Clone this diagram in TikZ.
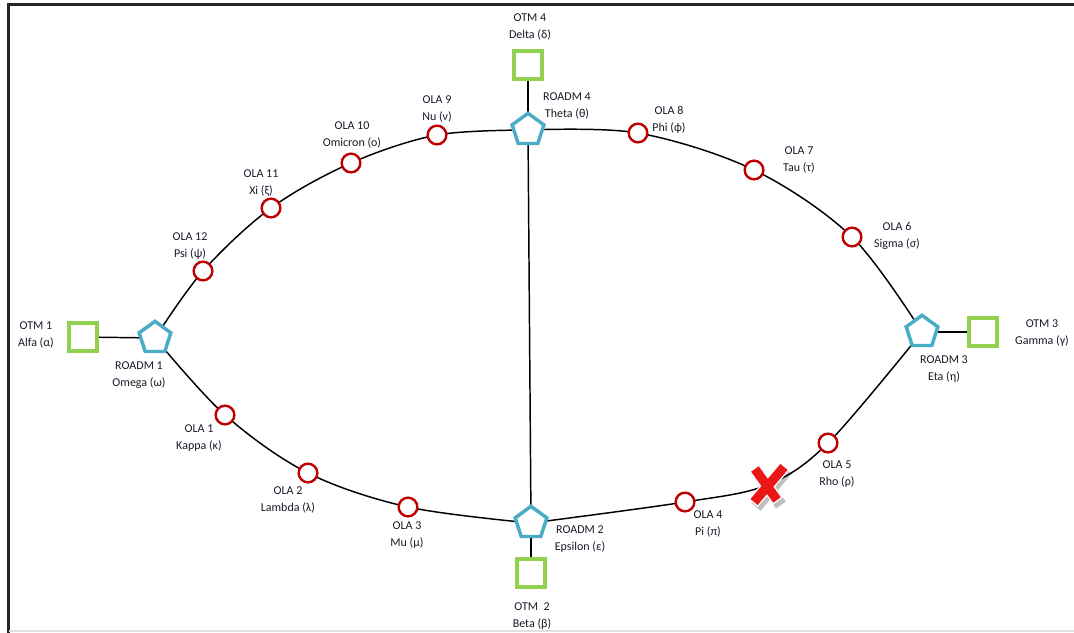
\documentclass[tikz,border=0pt]{standalone}
\usepackage{fontspec}
\setmainfont{Carlito}
\usetikzlibrary{shapes.geometric,backgrounds}
\definecolor{roadm}{RGB}{75,172,198}
\definecolor{otm}{RGB}{146,208,80}
\definecolor{ola}{RGB}{192,0,0}
\definecolor{txt}{RGB}{25,25,40}
\definecolor{xred}{RGB}{235,22,22}
\begin{document}
\begin{tikzpicture}[x=0.75pt,y=-0.75pt,
  roadmnode/.style={regular polygon, regular polygon sides=5, draw=roadm, line width=2.6pt, fill=white, minimum size=25pt, inner sep=0pt},
  otmnode/.style={rectangle, draw=otm, line width=3pt, fill=white, minimum size=21pt, inner sep=0pt},
  olanode/.style={circle, draw=ola, line width=1.8pt, fill=white, minimum size=14pt, inner sep=0pt},
  lbl/.style={font=\fontsize{9}{12.4}\selectfont, text=txt, align=center, inner sep=0pt},
  link/.style={draw=black, line width=1.1pt},
  xarm/.style={line width=7pt},
]
\useasboundingbox (0,0) rectangle (1074,632);

% ROADMs
\node[roadmnode] (r1) at (155,338) {};
\node[roadmnode] (r2) at (531,523) {};
\node[roadmnode] (r3) at (922,332) {};
\node[roadmnode] (r4) at (528,130) {};
% OTMs
\node[otmnode] (t1) at (83,337) {};
\node[otmnode] (t2) at (531,573) {};
\node[otmnode] (t3) at (983,332) {};
\node[otmnode] (t4) at (528,65) {};
% OLAs
\node[olanode] (o1) at (225,415) {};
\node[olanode] (o2) at (308,473) {};
\node[olanode] (o3) at (408,507) {};
\node[olanode] (o4) at (685,502) {};
\node[olanode] (o5) at (828,443) {};
\node[olanode] (o6) at (852,237) {};
\node[olanode] (o7) at (754,170) {};
\node[olanode] (o8) at (638,133) {};
\node[olanode] (o9) at (437,135) {};
\node[olanode] (o10) at (351,163) {};
\node[olanode] (o11) at (271,208) {};
\node[olanode] (o12) at (203,271) {};
\coordinate (cut) at (767,485);

% links and frame
\begin{scope}[on background layer]
\clip (0,0) rectangle (1074,632);
\draw[line width=1.6pt, black!85] (1090,4.5) -- (8.5,4.5) -- (8.5,650);
\draw[line width=1pt, black!12] (9,631) -- (1090,631);
\draw[link] plot[smooth, tension=0.55] coordinates {(r1.center) (o12.center) (o11.center) (o10.center) (o9.center) (r4.center)};
\draw[link] plot[smooth, tension=0.55] coordinates {(r4.center) (o8.center) (o7.center) (o6.center) (r3.center)};
\draw[link] plot[smooth, tension=0.55] coordinates {(r3.center) (o5.center) (cut) (o4.center) (r2.center)};
\draw[link] plot[smooth, tension=0.55] coordinates {(r2.center) (o3.center) (o2.center) (o1.center) (r1.center)};
\draw[link] (r4.center) -- (r2.center);
\draw[link] (t1.center) -- (r1.center);
\draw[link] (t2.center) -- (r2.center);
\draw[link] (t3.center) -- (r3.center);
\draw[link] (t4.center) -- (r4.center);
\end{scope}

% red cross (fibre cut)
\begin{scope}[shift={(cut)}]
\draw[xarm, black, opacity=0.25, line width=9pt] (-10,-13) -- (14,20) (20,-15) -- (-11,22);
\draw[xarm, white, line width=9pt] (-13,-17) -- (11,16) (18,-19) -- (-14,18);
\draw[xarm, xred] (-12,-16) -- (10,15) (17,-18) -- (-13,17);
\end{scope}

% labels
\node[lbl] (lt4) at (530,27) {OTM 4\\Delta (δ)};
\node[lbl] (lr4) at (567,106) {ROADM 4\\Theta (θ)};
\node[lbl] (l9) at (437,109) {OLA 9\\Nu (ν)};
\node[lbl] (l10) at (352,135) {OLA 10\\Omicron (ο)};
\node[lbl] (l11) at (261,183) {OLA 11\\Xi (ξ)};
\node[lbl] (l12) at (190,246) {OLA 12\\Psi (ψ)};
\node[lbl] (lt1) at (36,335) {OTM 1\\Alfa (α)};
\node[lbl] (lr1) at (139,375) {ROADM 1\\Omega (ω)};
\node[lbl] (l1) at (199,438) {OLA 1\\Kappa (κ)};
\node[lbl] (l2) at (288,500) {OLA 2\\Lambda (λ)};
\node[lbl] (l3) at (407,535) {OLA 3\\Mu (μ)};
\node[lbl] (lr2) at (580,539) {ROADM 2\\Epsilon (ε)};
\node[lbl] (lt2) at (532,616) {OTM\ \ 2\\Beta (β)};
\node[lbl] (l4) at (708,524) {OLA 4\\Pi (π)};
\node[lbl] (l5) at (837,474) {OLA 5\\Rho (ρ)};
\node[lbl] (lr3) at (944,369) {ROADM 3\\Eta (η)};
\node[lbl] (lt3) at (1042,333) {OTM 3\\Gamma (γ)};
\node[lbl] (l6) at (897,236) {OLA 6\\Sigma (σ)};
\node[lbl] (l7) at (799,160) {OLA 7\\Tau (τ)};
\node[lbl] (l8) at (669,120) {OLA 8\\Phi (ϕ)};
\end{tikzpicture}
\end{document}
